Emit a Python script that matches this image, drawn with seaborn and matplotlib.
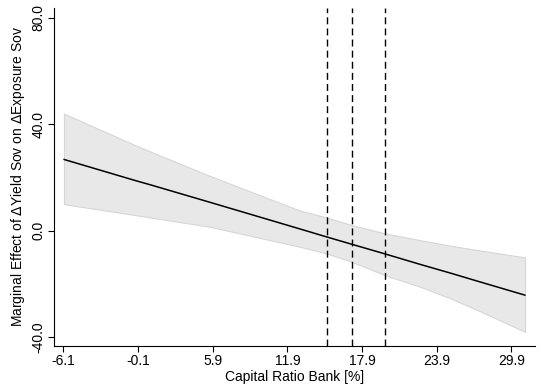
import pandas as pd
import matplotlib
matplotlib.use("Agg")
import matplotlib.pyplot as plt
import seaborn as sns

# --- values ---
capital_ratio = [-6.05, -0.34, 0.87, 5.68, 12.9, 15.05, 17.1, 19.75, 22.55, 25.0, 27.37, 31.0]
effect = [26.8, 18.9, 17.3, 10.7, 0.7, -2.3, -5.1, -8.7, -12.6, -15.9, -19.2, -24.2]
ci_upper = [44.0, 32.2, 29.8, 20.6, 7.6, 5.0, 2.1, -1.0, -3.5, -5.6, -7.4, -10.0]
ci_lower = [10.0, 5.9, 5.0, 1.5, -6.0, -8.5, -11.7, -16.7, -21.0, -25.4, -30.2, -38.0]
vlines = [15.06, 17.11, 19.74]
xticks = [-6.1, -0.1, 5.9, 11.9, 17.9, 23.9, 29.9]
yticks = [-40.0, 0.0, 40.0, 80.0]

df = pd.DataFrame({"capital_ratio": capital_ratio, "effect": effect,
                   "upper": ci_upper, "lower": ci_lower})

sns.set_style("ticks")
plt.rcParams["font.family"] = ["Liberation Sans", "DejaVu Sans"]
plt.rcParams.update({"text.color": "black", "axes.labelcolor": "black",
                     "xtick.color": "black", "ytick.color": "black"})

fig = plt.figure(figsize=(5.41, 3.9), dpi=100)
ax = fig.add_axes([54 / 541, 44 / 390, (535 - 54) / 541, (346 - 8) / 390])

ax.fill_between(df["capital_ratio"], df["lower"], df["upper"],
                facecolor="#e8e8e8", edgecolor="#d6d6d6", linewidth=0.8, zorder=1)
sns.lineplot(data=df, x="capital_ratio", y="effect", color="black",
             linewidth=1.1, ax=ax, zorder=3)
for v in vlines:
    ax.axvline(v, color="black", linestyle=(0, (5, 3)), linewidth=1.0, zorder=2)

ax.set_xlim(-6.85, 31.8)
ax.set_ylim(-43.3, 83.7)
ax.set_xticks(xticks)
ax.set_xticklabels([f"{t:.1f}" for t in xticks], fontsize=10)
ax.set_yticks(yticks)
ax.set_yticklabels([f"{t:.1f}" for t in yticks], fontsize=10,
                   rotation=90, va="center")
ax.tick_params(direction="out", length=4, width=0.8, color="black", pad=2)
ax.set_xlabel("Capital Ratio Bank [%]", fontsize=10, labelpad=1)
ax.set_ylabel("Marginal Effect of $\\Delta$Yield Sov on $\\Delta$Exposure Sov",
              fontsize=10, labelpad=3)
sns.despine(ax=ax)
for s in ["left", "bottom"]:
    ax.spines[s].set_linewidth(0.8)
    ax.spines[s].set_color("black")

fig.savefig("out.png", dpi=100)
